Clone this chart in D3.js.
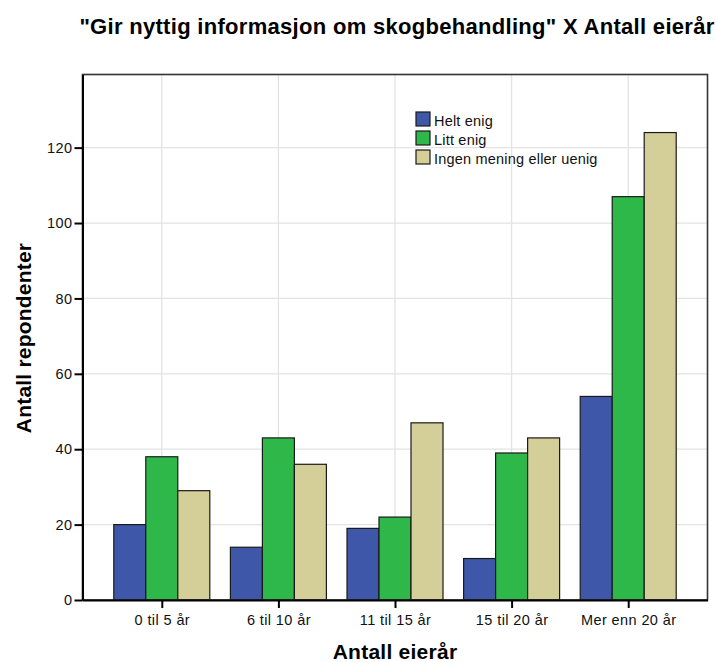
<!DOCTYPE html>
<html><head><meta charset="utf-8">
<script src="https://cdn.jsdelivr.net/npm/d3@7"></script>
<style>body{margin:0;background:#fff;} svg{display:block;font-family:"Liberation Sans",Arial,sans-serif;}</style>
</head><body>
<svg id="c" width="718" height="662"></svg>
<script>
const categories = ["0 til 5 år", "6 til 10 år", "11 til 15 år", "15 til 20 år", "Mer enn 20 år"];
const seriesNames = ["Helt enig", "Litt enig", "Ingen mening eller uenig"];
const heltEnig = [20, 14, 19, 11, 54];
const littEnig = [38, 43, 22, 39, 107];
const ingenMening = [29, 36, 47, 43, 124];
const yTicks = [0, 20, 40, 60, 80, 100, 120];
const colors = ["#3f57a9", "#2fb84a", "#d4ce98"];
const seriesValues = [heltEnig, littEnig, ingenMening];

const svg = d3.select("#c");
const L = 82.5, R = 707.5, T = 74.5, B = 600;

const x = d3.scalePoint().domain(categories).range([L, R]).padding(0.68);
const y = d3.scaleLinear().domain([0, 139.4]).range([B, T]);
const barW = 32;
const xs = d3.scaleBand().domain(seriesNames).range([-barW*1.5, barW*1.5]).padding(0);

// gridlines
svg.append("g").selectAll("line.h").data(yTicks.filter(d => d > 0)).join("line")
  .attr("x1", L).attr("x2", R).attr("y1", d => y(d)).attr("y2", d => y(d))
  .attr("stroke", "#e3e3e3").attr("stroke-width", 1.3);
svg.append("g").selectAll("line.v").data(categories).join("line")
  .attr("x1", d => x(d)).attr("x2", d => x(d)).attr("y1", T).attr("y2", B)
  .attr("stroke", "#e3e3e3").attr("stroke-width", 1.3);

// bars
const groups = svg.append("g").selectAll("g").data(categories).join("g")
  .attr("transform", d => `translate(${x(d)},0)`);
groups.selectAll("rect").data((c, i) => seriesNames.map((s, k) => ({s, k, v: seriesValues[k][i]}))).join("rect")
  .attr("x", d => xs(d.s)).attr("width", xs.bandwidth())
  .attr("y", d => y(d.v)).attr("height", d => B - y(d.v))
  .attr("fill", d => colors[d.k]).attr("stroke", "#1a1a1a").attr("stroke-width", 1.2);

// frame
svg.append("rect").attr("x", L).attr("y", T).attr("width", R - L).attr("height", B - T)
  .attr("fill", "none").attr("stroke", "#333").attr("stroke-width", 1.6);

// axes
const tickFont = sel => sel.attr("font-size", 14.5).attr("letter-spacing", 0.4).attr("fill", "#111")
  .attr("font-family", "Liberation Sans, Arial, sans-serif");
const yAxis = d3.axisLeft(y).tickValues(yTicks).tickSize(8).tickSizeOuter(0).tickPadding(2);
const gy = svg.append("g").attr("transform", `translate(${L},0)`).call(yAxis);
gy.select(".domain").attr("stroke", "#000").attr("stroke-width", 2);
gy.selectAll(".tick line").attr("stroke", "#000").attr("stroke-width", 2);
gy.selectAll("text").call(tickFont);

const xAxis = d3.axisBottom(x).tickSize(8).tickSizeOuter(0).tickPadding(4);
const gx = svg.append("g").attr("transform", `translate(0,${B})`).call(xAxis);
gx.select(".domain").attr("stroke", "#000").attr("stroke-width", 2);
gx.selectAll(".tick line").attr("stroke", "#000").attr("stroke-width", 2);
gx.selectAll("text").call(tickFont).attr("dy", null).attr("y", 25);

// titles
svg.append("text").attr("x", 397).attr("y", 34).attr("text-anchor", "middle")
  .attr("font-size", 22).attr("letter-spacing", 0.3).attr("font-weight", "bold").attr("fill", "#000")
  .text('"Gir nyttig informasjon om skogbehandling" X Antall eierår');
svg.append("text").attr("x", 395).attr("y", 659).attr("text-anchor", "middle")
  .attr("font-size", 21).attr("letter-spacing", 0.25).attr("font-weight", "bold").attr("fill", "#000")
  .text("Antall eierår");
svg.append("text").attr("transform", "translate(31,338) rotate(-90)").attr("text-anchor", "middle")
  .attr("font-size", 21).attr("letter-spacing", 0.2).attr("font-weight", "bold").attr("fill", "#000")
  .text("Antall repondenter");

// legend
const lg = svg.append("g").attr("transform", "translate(416,112)");
const li = lg.selectAll("g").data(seriesNames).join("g").attr("transform", (d, i) => `translate(0,${i * 19})`);
li.append("rect").attr("width", 14).attr("height", 14).attr("fill", (d, i) => colors[i])
  .attr("stroke", "#1a1a1a").attr("stroke-width", 1.2);
li.append("text").attr("x", 18).attr("y", 13.5).attr("font-size", 14.5).attr("letter-spacing", 0.2)
  .attr("fill", "#111").text(d => d);
</script>
</body></html>
